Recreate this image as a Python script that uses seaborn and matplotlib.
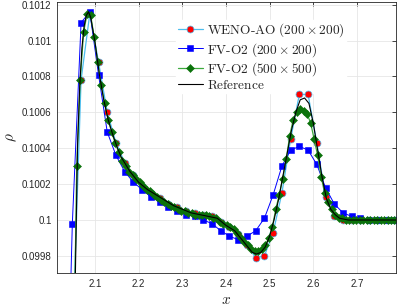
import matplotlib
matplotlib.use("Agg")
import matplotlib.pyplot as plt
import seaborn as sns

# WENO-AO (200 x 200)
weno_x = [2.048, 2.068, 2.088, 2.108, 2.128, 2.148, 2.168, 2.188, 2.208, 2.228,
          2.248, 2.268, 2.288, 2.308, 2.328, 2.348, 2.368, 2.388, 2.408, 2.428,
          2.448, 2.468, 2.488, 2.508, 2.528, 2.548, 2.568, 2.588, 2.608, 2.628,
          2.648, 2.668, 2.688, 2.708, 2.728, 2.748, 2.768, 2.788]
weno_rho = [0.09930, 0.10078, 0.10115, 0.10088, 0.10060, 0.10043, 0.10032, 0.10025, 0.10019, 0.10015,
            0.10012, 0.10009, 0.10007, 0.10005, 0.10004, 0.10003, 0.10002, 0.09999, 0.09996, 0.09992,
            0.09986, 0.09979, 0.09980, 0.09993, 0.10015, 0.10045, 0.10070, 0.10070, 0.10043, 0.10013,
            0.10002, 0.10000, 0.10000, 0.10000, 0.10000, 0.10000, 0.10000, 0.10000]

# FV-O2 (200 x 200)
fv200_x = [2.028, 2.048, 2.068, 2.088, 2.108, 2.128, 2.148, 2.168, 2.188, 2.208,
           2.228, 2.248, 2.268, 2.288, 2.308, 2.328, 2.348, 2.368, 2.388, 2.408,
           2.428, 2.448, 2.468, 2.488, 2.508, 2.528, 2.548, 2.568, 2.588, 2.608,
           2.628, 2.648, 2.668, 2.688, 2.708, 2.728, 2.748, 2.768, 2.788]
fv200_rho = [0.09815, 0.09998, 0.10110, 0.10116, 0.10081, 0.10049, 0.10036, 0.10027, 0.10021, 0.10017,
             0.10013, 0.10010, 0.10007, 0.10005, 0.10003, 0.10002, 0.10000, 0.09998, 0.09994, 0.09991,
             0.09989, 0.09991, 0.09994, 0.10001, 0.10014, 0.10030, 0.10039, 0.10041, 0.10039, 0.10031,
             0.10018, 0.10009, 0.10004, 0.10002, 0.10001, 0.10000, 0.10000, 0.10000, 0.10000]

# FV-O2 (500 x 500)
fv500_x = [2.050, 2.058, 2.066, 2.074, 2.082, 2.090, 2.098, 2.106, 2.114, 2.122,
           2.130, 2.138, 2.146, 2.154, 2.162, 2.170, 2.178, 2.186, 2.194, 2.202,
           2.210, 2.218, 2.226, 2.234, 2.242, 2.250, 2.258, 2.266, 2.274, 2.282,
           2.290, 2.298, 2.306, 2.314, 2.322, 2.330, 2.338, 2.346, 2.354, 2.362,
           2.370, 2.378, 2.386, 2.394, 2.402, 2.410, 2.418, 2.426, 2.434, 2.442,
           2.450, 2.458, 2.466, 2.474, 2.482, 2.490, 2.498, 2.506, 2.514, 2.522,
           2.530, 2.538, 2.546, 2.554, 2.562, 2.570, 2.578, 2.586, 2.594, 2.602,
           2.610, 2.618, 2.626, 2.634, 2.642, 2.650, 2.658, 2.666, 2.674, 2.682,
           2.690, 2.698, 2.706, 2.714, 2.722, 2.730, 2.738, 2.746, 2.754, 2.762,
           2.770, 2.778, 2.786]
fv500_rho = [0.09900, 0.10030, 0.10078, 0.10105, 0.10115, 0.10114, 0.10102, 0.10088, 0.10075, 0.10065,
             0.10056, 0.10049, 0.10043, 0.10038, 0.10033, 0.10030, 0.10027, 0.10025, 0.10023, 0.10021,
             0.10019, 0.10017, 0.10016, 0.10014, 0.10013, 0.10011, 0.10010, 0.10009, 0.10008, 0.10007,
             0.10006, 0.10005, 0.10005, 0.10004, 0.10004, 0.10003, 0.10003, 0.10003, 0.10003, 0.10002,
             0.10001, 0.10001, 0.09999, 0.09998, 0.09997, 0.09996, 0.09995, 0.09993, 0.09990, 0.09988,
             0.09986, 0.09984, 0.09983, 0.09983, 0.09984, 0.09986, 0.09990, 0.09996, 0.10006, 0.10014,
             0.10023, 0.10034, 0.10047, 0.10056, 0.10060, 0.10062, 0.10061, 0.10059, 0.10054, 0.10045,
             0.10036, 0.10024, 0.10015, 0.10010, 0.10006, 0.10003, 0.10001, 0.10001, 0.10000, 0.10000,
             0.10000, 0.10000, 0.10000, 0.10000, 0.10000, 0.10000, 0.10000, 0.10000, 0.10000, 0.10000,
             0.10000, 0.10000, 0.10000]

# Reference solution
ref_x = [2.050, 2.055, 2.060, 2.065, 2.070, 2.075, 2.080, 2.085, 2.090, 2.095,
         2.100, 2.105, 2.110, 2.115, 2.120, 2.130, 2.140, 2.150, 2.160, 2.170,
         2.180, 2.190, 2.200, 2.220, 2.240, 2.260, 2.280, 2.300, 2.320, 2.340,
         2.360, 2.380, 2.400, 2.420, 2.440, 2.450, 2.460, 2.470, 2.480, 2.490,
         2.500, 2.510, 2.520, 2.530, 2.540, 2.550, 2.560, 2.570, 2.580, 2.590,
         2.600, 2.610, 2.620, 2.630, 2.640, 2.650, 2.660, 2.680, 2.790]
ref_rho = [0.09900, 0.09970, 0.10042, 0.10075, 0.10096, 0.10108, 0.10114, 0.10116, 0.10113, 0.10106,
           0.10099, 0.10090, 0.10081, 0.10074, 0.10067, 0.10056, 0.10048, 0.10041, 0.10035, 0.10031,
           0.10027, 0.10024, 0.10021, 0.10017, 0.10014, 0.10011, 0.10008, 0.10006, 0.10004, 0.10003,
           0.10002, 0.10001, 0.09997, 0.09994, 0.09988, 0.09985, 0.09982, 0.09981, 0.09982, 0.09985,
           0.09991, 0.10000, 0.10011, 0.10024, 0.10037, 0.10050, 0.10060, 0.10067, 0.10068, 0.10065,
           0.10054, 0.10039, 0.10024, 0.10012, 0.10006, 0.10003, 0.10001, 0.10000, 0.10000]

x_ticks = [2.1, 2.2, 2.3, 2.4, 2.5, 2.6, 2.7]
y_ticks = [0.0998, 0.1, 0.1002, 0.1004, 0.1006, 0.1008, 0.101, 0.1012]
y_tick_labels = ["0.0998", "0.1", "0.1002", "0.1004", "0.1006", "0.1008", "0.101", "0.1012"]

sns.set_style("whitegrid")
plt.rcParams["font.family"] = ["Liberation Sans", "DejaVu Sans"]
plt.rcParams["mathtext.fontset"] = "cm"

fig = plt.figure(figsize=(3.99, 3.06), dpi=100)
ax = fig.add_axes([0.143, 0.108, 0.849, 0.886])

sns.lineplot(x=weno_x, y=weno_rho, ax=ax, sort=False, color="#4DBEEE", lw=0.9,
             marker="o", markersize=5, markerfacecolor="#FF0000", markeredgecolor="#4DBEEE",
             markeredgewidth=0.5, label=r"$\mathrm{WENO}\text{-}\mathrm{AO}\ (200\times 200)$")
sns.lineplot(x=fv200_x, y=fv200_rho, ax=ax, sort=False, color="#0000FF", lw=0.7,
             marker="s", markersize=4.2, markerfacecolor="#0000FF", markeredgecolor="#0000FF",
             markeredgewidth=0.4, label=r"$\mathrm{FV}\text{-}\mathrm{O2}\ (200\times 200)$")
sns.lineplot(x=fv500_x, y=fv500_rho, ax=ax, sort=False, color="#3DAA3D", lw=0.9,
             marker="D", markersize=4.2, markerfacecolor="#0B720B", markeredgecolor="#0B720B",
             markeredgewidth=0.4, label=r"$\mathrm{FV}\text{-}\mathrm{O2}\ (500\times 500)$")
sns.lineplot(x=ref_x, y=ref_rho, ax=ax, sort=False, color="black", lw=0.8,
             label=r"$\mathrm{Reference}$")

ax.set_xlim(2.013, 2.789)
ax.set_ylim(0.099705, 0.101216)
ax.set_xticks(x_ticks)
ax.set_xticklabels([str(t) for t in x_ticks])
ax.set_yticks(y_ticks)
ax.set_yticklabels(y_tick_labels)
ax.tick_params(direction="in", length=3, width=0.6, labelsize=7, colors="#262626",
               top=True, right=True, pad=4)
ax.grid(True, color="#E6E6E6", lw=0.6)
for s in ax.spines.values():
    s.set_color("#262626")
    s.set_linewidth(0.6)

ax.set_xlabel(r"$x$", fontsize=11, labelpad=3)
ax.set_ylabel(r"$\rho$", fontsize=11, labelpad=2)

leg = ax.legend(loc="upper left", bbox_to_anchor=(0.352, 0.932), fontsize=9.6,
                frameon=True, facecolor="white", edgecolor="white", framealpha=1,
                handlelength=1.9, handletextpad=0.3, labelspacing=0.1, borderpad=0.1,
                borderaxespad=0)
leg.set_zorder(1.5)  # keep the curves drawn over the legend box

fig.savefig("out.png", dpi=100)
